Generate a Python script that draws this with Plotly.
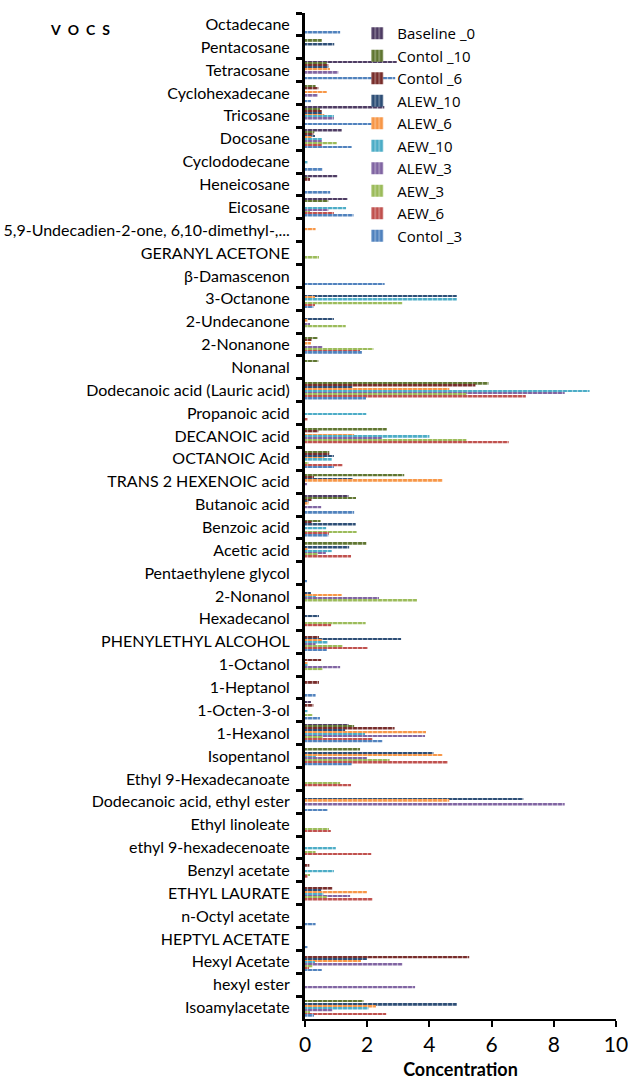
import plotly.graph_objects as go

# Compounds, listed top to bottom
compounds = [
    "Octadecane", "Pentacosane", "Tetracosane", "Cyclohexadecane", "Tricosane",
    "Docosane", "Cyclododecane", "Heneicosane", "Eicosane",
    "5,9-Undecadien-2-one, 6,10-dimethyl-,...", "GERANYL ACETONE",
    "β-Damascenon", "3-Octanone", "2-Undecanone", "2-Nonanone", "Nonanal",
    "Dodecanoic acid (Lauric acid)", "Propanoic acid", "DECANOIC acid",
    "OCTANOIC Acid", "TRANS 2 HEXENOIC acid", "Butanoic acid", "Benzoic acid",
    "Acetic acid", "Pentaethylene glycol", "2-Nonanol", "Hexadecanol",
    "PHENYLETHYL ALCOHOL", "1-Octanol", "1-Heptanol", "1-Octen-3-ol",
    "1-Hexanol", "Isopentanol", "Ethyl 9-Hexadecanoate",
    "Dodecanoic acid, ethyl ester", "Ethyl linoleate", "ethyl 9-hexadecenoate",
    "Benzyl acetate", "ETHYL LAURATE", "n-Octyl acetate", "HEPTYL ACETATE",
    "Hexyl Acetate", "hexyl ester", "Isoamylacetate",
]

baseline_0 = [0, 0, 2.95, 0, 2.55, 1.18, 0, 1.04, 1.37, 0, 0,
              0, 0, 0, 0, 0, 0, 0, 0, 0, 0, 1.40,
              0, 0, 0, 0, 0, 0, 0, 0, 0.19, 1.40, 0,
              0, 0, 0, 0, 0, 0, 0, 0, 0, 0, 0]
contol_10 = [0, 0.54, 0.70, 0.34, 0.48, 0.30, 0, 0.11, 0.75, 0, 0,
             0, 0, 0, 0.41, 0.43, 5.90, 0, 2.63, 0.78, 3.19, 1.64,
             0.50, 1.97, 0, 0, 0, 0, 0, 0, 0, 1.58, 1.77,
             0, 0, 0, 0, 0, 0, 0, 0, 0, 0, 1.88]
contol_6 = [0, 0, 0.75, 0.43, 0.54, 0.27, 0, 0.16, 0, 0, 0,
            0, 0, 0, 0.21, 0, 5.48, 0, 0.43, 0.78, 0.29, 0.21,
            0.21, 0, 0, 0, 0, 0.45, 0.52, 0.45, 0.27, 2.88, 0,
            0, 0, 0, 0, 0.14, 0.88, 0, 0, 5.28, 0, 0]
alew_10 = [0, 0.94, 0.75, 0, 0.54, 0.32, 0, 0, 0, 0, 0,
           0, 4.88, 0.93, 0, 0, 1.52, 0, 0, 0.93, 1.54, 0.11,
           1.63, 1.42, 0, 0.19, 0.45, 3.09, 0, 0, 0, 1.29, 4.13,
           0, 7.02, 0, 0, 0, 0.52, 0, 0, 1.99, 0, 4.88]
alew_6 = [0, 0, 0.80, 0.70, 0.62, 0.21, 0, 0, 0, 0.34, 0,
          0, 0.32, 0.09, 0.19, 0, 4.64, 0, 1.58, 0.62, 4.42, 0.11,
          0, 0.09, 0, 1.18, 0, 0.54, 0.09, 0, 0, 3.89, 4.42,
          0, 4.64, 0, 0, 0, 1.99, 0, 0, 1.80, 0, 2.28]
aew_10 = [0, 0, 0, 0, 0.93, 0.54, 0.09, 0, 1.32, 0, 0,
          0, 4.88, 0, 0, 0, 9.15, 1.97, 4.00, 0.86, 0, 0,
          0.68, 0.86, 0, 0.35, 0, 0.73, 0.09, 0, 0.09, 1.93, 0.35,
          0, 0, 0, 0.99, 0.93, 0.59, 0, 0, 0.32, 0, 2.04]
alew_3 = [0, 0, 1.07, 0.41, 0.93, 0.54, 0, 0, 0.75, 0, 0,
          0, 0, 0.16, 0.56, 0, 8.35, 0, 2.47, 0, 0.05, 0.52,
          0, 0.67, 0, 2.38, 0, 0.34, 1.13, 0, 0, 3.86, 1.99,
          0, 8.35, 0, 0, 0, 1.45, 0, 0, 3.13, 3.54, 0.88]
aew_3 = [0, 0, 0, 0, 0, 1.02, 0, 0, 0.16, 0, 0.45,
         0, 3.13, 1.31, 2.20, 0, 5.19, 0, 5.19, 0.11, 0, 0,
         1.66, 0.41, 0, 3.60, 1.95, 1.21, 0.57, 0, 0.24, 0.57, 2.72,
         1.13, 0, 0.77, 0.34, 0.16, 0.70, 0, 0, 0.24, 0, 0.16]
aew_6 = [0, 0, 0, 0, 0, 0.54, 0, 0, 0.93, 0, 0,
         0, 0.32, 0, 1.77, 0, 7.10, 0.09, 6.55, 1.21, 0, 0,
         0.77, 1.48, 0, 0, 0.84, 2.02, 0, 0, 0, 2.17, 4.59,
         1.48, 0, 0.83, 2.13, 0.09, 2.17, 0, 0, 0.13, 0, 2.61]
contol_3 = [1.13, 0, 2.90, 0.19, 2.36, 1.50, 0.56, 0.81, 1.56, 0, 0,
            2.56, 0.27, 0, 1.83, 0, 1.96, 0, 0, 0.93, 0, 1.58,
            0.75, 0, 0.05, 0, 0, 0.70, 0, 0.34, 0.48, 2.49, 1.50,
            0, 0.73, 0, 0, 0, 0, 0.34, 0.09, 0.54, 0, 0.29]

series_names = ["Baseline _0", "Contol _10", "Contol _6", "ALEW_10", "ALEW_6",
                "AEW_10", "ALEW_3", "AEW_3", "AEW_6", "Contol _3"]
series_values = [baseline_0, contol_10, contol_6, alew_10, alew_6,
                 aew_10, alew_3, aew_3, aew_6, contol_3]
series_colors = ["#4D3B62", "#5F7530", "#772C2A", "#2C4D75", "#F79646",
                 "#4BACC6", "#8064A2", "#9BBB59", "#C0504D", "#4F81BD"]

fig = go.Figure()
for name, vals, col in zip(series_names, series_values, series_colors):
    fig.add_trace(go.Bar(
        y=compounds, x=vals, name=name, orientation="h",
        marker=dict(
            color=col, line=dict(width=0),
            pattern=dict(shape="|", fillmode="overlay", fgcolor="white",
                         size=5, solidity=0.25),
        ),
    ))

fig.update_layout(
    width=628, height=1080,
    margin=dict(l=305, r=12, t=13, b=61),
    barmode="group", bargap=0.2, bargroupgap=0,
    plot_bgcolor="white", paper_bgcolor="white",
    font=dict(family="Lato", color="black"),
    legend=dict(
        x=0.168, y=0.996, xanchor="left", yanchor="top",
        bgcolor="rgba(0,0,0,0)",
        font=dict(family="Open Sans", size=15, color="black"),
        traceorder="normal", itemwidth=30,
    ),
    xaxis=dict(
        range=[0, 10], dtick=2, showgrid=False, zeroline=False,
        showline=True, linecolor="black", linewidth=2,
        ticks="outside", ticklen=6, tickwidth=2, tickcolor="black",
        tickfont=dict(size=21, color="black"), automargin=False,
        ticklabeloverflow="allow",
        title=dict(text="<b>Concentration</b>",
                   font=dict(size=18, color="black"), standoff=8),
    ),
    yaxis=dict(
        autorange="reversed", showgrid=False, zeroline=False,
        showline=True, linecolor="black", linewidth=3,
        ticks="outside", tickson="boundaries", ticklen=6, tickwidth=3,
        tickcolor="black", tickfont=dict(size=16, color="black"),
        ticklabelstandoff=9, automargin=False,
    ),
    annotations=[dict(
        text="<b>V\u2002O\u2002C\u2002S</b>", x=-0.725, y=0.984,
        xref="paper", yref="paper", xanchor="center", yanchor="middle",
        showarrow=False, font=dict(size=14, color="black"),
    )],
)

fig.write_html("out.html")
